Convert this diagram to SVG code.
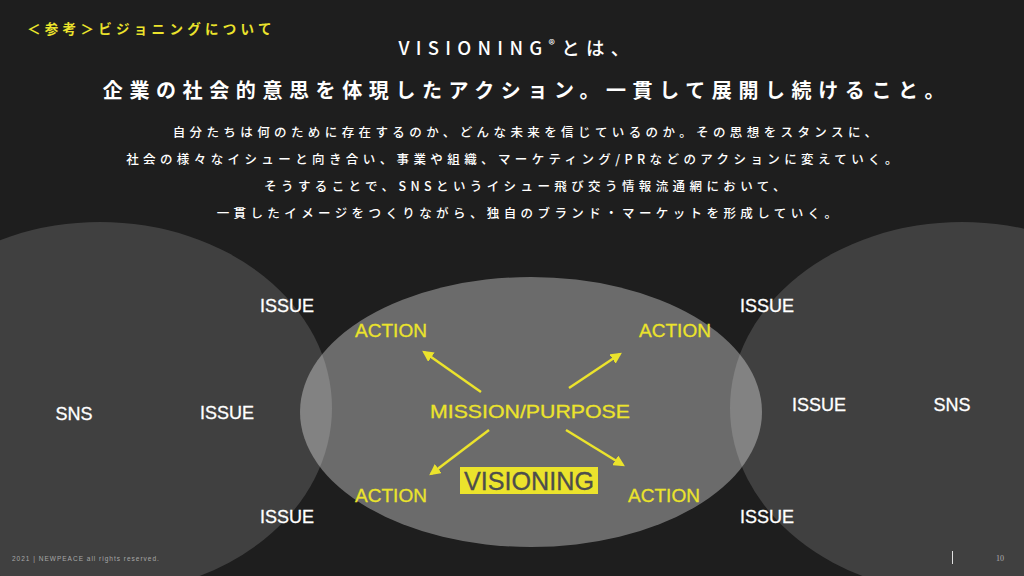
<svg xmlns="http://www.w3.org/2000/svg" width="1024" height="576" viewBox="0 0 1024 576">
<defs>
<style>
.jp{font-family:"Noto Sans CJK JP","Noto Sans",sans-serif;}
.lbl{font-family:"Liberation Sans",Arial,sans-serif;fill:#ffffff;font-size:18px;stroke:#ffffff;stroke-width:0.3;}
.act{font-family:"Liberation Sans",Arial,sans-serif;fill:#ebe32c;font-size:19px;stroke:#ebe32c;stroke-width:0.3;}
.arrow{stroke:#ebe32c;stroke-width:2.5;fill:none;marker-end:url(#ah);}
.ell{fill:#ffffff;}
</style>
<marker id="ah" viewBox="0 0 10 10" refX="8" refY="5" markerWidth="4.5" markerHeight="4.5" orient="auto" markerUnits="strokeWidth">
<path d="M0,0 L10,5 L0,10 z" fill="#ebe32c"/>
</marker>
</defs>
<rect x="0" y="0" width="1024" height="576" fill="#1e1e1e"/>

<g id="ellipses">
<ellipse id="sns-left" class="ell" cx="100" cy="408" rx="232" ry="186" fill-opacity="0.152"/>
<ellipse id="sns-right" class="ell" cx="962" cy="408" rx="232" ry="186" fill-opacity="0.152"/>
<ellipse id="visioning-ellipse" class="ell" cx="531" cy="412" rx="231" ry="135" fill-opacity="0.345"/>
</g>

<g id="header">
<text class="jp" x="27" y="34" font-size="13.5" font-weight="700" fill="#ebe32c" letter-spacing="4.3">＜参考＞ビジョニングについて</text>
<text class="jp" x="517" y="55" font-size="18.5" font-weight="500" fill="#ffffff" letter-spacing="6.3" text-anchor="middle">VISIONING<tspan font-size="13" dy="-5">®</tspan><tspan dy="5">とは、</tspan></text>
<text class="jp" x="527" y="98" font-size="20" font-weight="700" fill="#ffffff" letter-spacing="6.6" text-anchor="middle">企業の社会的意思を体現したアクション。一貫して展開し続けること。</text>
<g class="jp" font-size="12.5" font-weight="500" fill="#ffffff" text-anchor="middle" letter-spacing="4.4">
<text x="527" y="137">自分たちは何のために存在するのか、どんな未来を信じているのか。その思想をスタンスに、</text>
<text x="514" y="164">社会の様々なイシューと向き合い、事業や組織、マーケティング/PRなどのアクションに変えていく。</text>
<text x="527" y="191">そうすることで、SNSというイシュー飛び交う情報流通網において、</text>
<text x="529" y="218">一貫したイメージをつくりながら、独自のブランド・マーケットを形成していく。</text>
</g>
</g>

<g id="node-left">
<text class="lbl" x="74" y="420" text-anchor="middle">SNS</text>
<text class="lbl" x="287" y="312" text-anchor="middle">ISSUE</text>
<text class="lbl" x="227" y="419" text-anchor="middle">ISSUE</text>
<text class="lbl" x="287" y="523" text-anchor="middle">ISSUE</text>
</g>
<g id="node-right">
<text class="lbl" x="952" y="411" text-anchor="middle">SNS</text>
<text class="lbl" x="767" y="312" text-anchor="middle">ISSUE</text>
<text class="lbl" x="819" y="411" text-anchor="middle">ISSUE</text>
<text class="lbl" x="767" y="523" text-anchor="middle">ISSUE</text>
</g>
<g id="node-center">
<text class="act" x="530" y="418" text-anchor="middle" font-size="21.5" textLength="200" lengthAdjust="spacingAndGlyphs">MISSION/PURPOSE</text>
<text class="act" x="391" y="337" text-anchor="middle">ACTION</text>
<text class="act" x="675" y="337" text-anchor="middle">ACTION</text>
<text class="act" x="391" y="502" text-anchor="middle">ACTION</text>
<text class="act" x="664" y="502" text-anchor="middle">ACTION</text>
<rect x="460" y="467" width="138" height="27" fill="#ebe32c"/>
<text x="529" y="490" text-anchor="middle" font-family="'Liberation Sans',Arial,sans-serif" font-size="25" fill="#4d4d4d" stroke="#4d4d4d" stroke-width="0.3" textLength="130" lengthAdjust="spacingAndGlyphs">VISIONING</text>
</g>

<g id="connectors">
<line class="arrow" x1="481" y1="392" x2="424" y2="352"/>
<line class="arrow" x1="569" y1="388" x2="620" y2="354"/>
<line class="arrow" x1="489" y1="430" x2="431" y2="474"/>
<line class="arrow" x1="566" y1="430" x2="623" y2="465"/>
</g>

<g id="footer">
<text x="12" y="561" font-family="'Liberation Sans',Arial,sans-serif" font-size="6.5" fill="#a8a8a8" letter-spacing="1">2021 | NEWPEACE all rights reserved.</text>
<line x1="952.5" y1="551" x2="952.5" y2="564" stroke="#e0e0e0" stroke-width="1"/>
<text x="1000" y="561" font-family="'Liberation Serif',serif" font-size="8" fill="#b0b0b0" text-anchor="middle">10</text>
</g>
</svg>
